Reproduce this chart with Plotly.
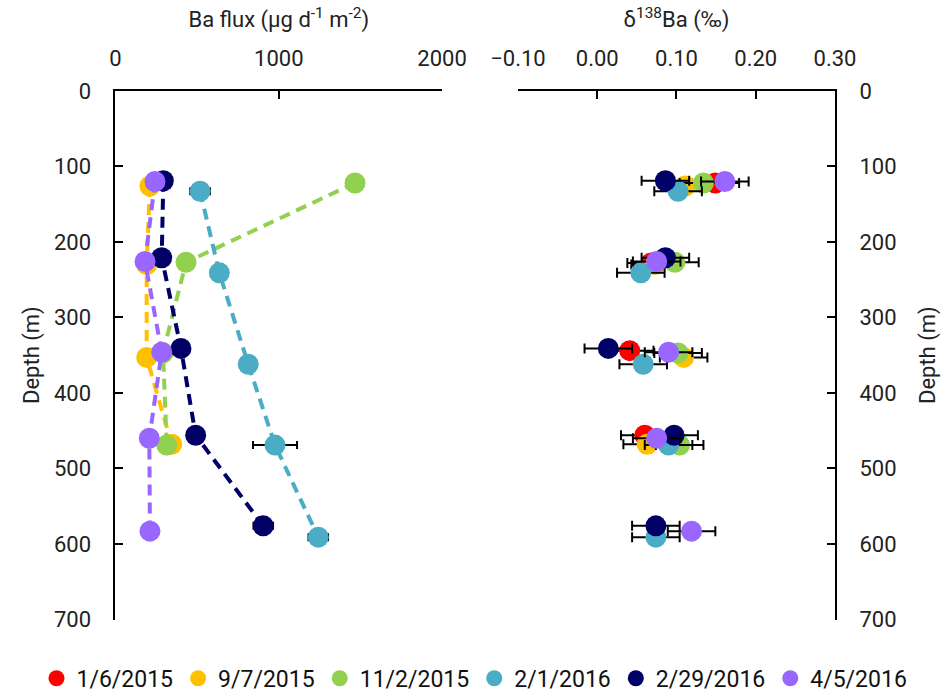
import plotly.graph_objects as go

# Sampling dates (legend order) and their colours
dates = ["1/6/2015", "9/7/2015", "11/2/2015", "2/1/2016", "2/29/2016", "4/5/2016"]
colors = ["#FF0000", "#FFC000", "#92D050", "#4BACC6", "#000066", "#9966FF"]

# Trap depths (m) per sampling date
depth_0106 = [122, 228, 344, 456]
depth_0907 = [126, 230, 353, 468]
depth_1102 = [122, 227, 347, 469]
depth_0201 = [133, 241, 362, 469, 591]
depth_0229 = [119, 221, 341, 456, 576]
depth_0405 = [120, 226, 346, 460, 583]

# Ba flux (µg d-1 m-2) and its uncertainty
flux_0106 = [None, None, None, None]
flux_0907 = [211, 191, 191, 344]
flux_1102 = [1467, 432, 291, 314]
flux_0201 = [518, 636, 813, 977, 1242]
flux_0229 = [293, 283, 401, 491, 905]
flux_0405 = [242, 181, 283, 207, 211]
flux_err_0106 = [0, 0, 0, 0]
flux_err_0907 = [0, 0, 0, 0]
flux_err_1102 = [45, 0, 0, 0]
flux_err_0201 = [60, 0, 0, 135, 60]
flux_err_0229 = [0, 0, 0, 0, 60]
flux_err_0405 = [0, 0, 0, 0, 0]

# delta-138 Ba (permil) and its uncertainty
d138_0106 = [0.149, 0.068, 0.041, 0.060]
d138_0907 = [0.111, 0.073, 0.109, 0.063]
d138_1102 = [0.134, 0.098, 0.102, 0.104]
d138_0201 = [0.102, 0.055, 0.058, 0.090, 0.074]
d138_0229 = [0.086, 0.086, 0.014, 0.097, 0.074]
d138_0405 = [0.161, 0.075, 0.090, 0.075, 0.119]
d138_err_0106 = [0.03, 0.03, 0.03, 0.03]
d138_err_0907 = [0.03, 0.03, 0.03, 0.03]
d138_err_1102 = [0.03, 0.03, 0.03, 0.03]
d138_err_0201 = [0.03, 0.03, 0.03, 0.03, 0.03]
d138_err_0229 = [0.03, 0.03, 0.03, 0.03, 0.03]
d138_err_0405 = [0.03, 0.03, 0.03, 0.03, 0.03]

# Axis ticks
flux_ticks = [0, 1000, 2000]
d138_ticks = [-0.10, 0.00, 0.10, 0.20, 0.30]
depth_ticks = [0, 100, 200, 300, 400, 500, 600, 700]

depths = [depth_0106, depth_0907, depth_1102, depth_0201, depth_0229, depth_0405]
fluxes = [flux_0106, flux_0907, flux_1102, flux_0201, flux_0229, flux_0405]
flux_errs = [flux_err_0106, flux_err_0907, flux_err_1102, flux_err_0201, flux_err_0229, flux_err_0405]
d138s = [d138_0106, d138_0907, d138_1102, d138_0201, d138_0229, d138_0405]
d138_errs = [d138_err_0106, d138_err_0907, d138_err_1102, d138_err_0201, d138_err_0229, d138_err_0405]

FONT = "Roboto"
TXT = "#222222"
MSIZE = 21

fig = go.Figure()

# Left panel: Ba flux profiles with dashed connectors
for name, col, dep, fx, fe in zip(dates, colors, depths, fluxes, flux_errs):
    fig.add_trace(go.Scatter(
        x=fx, y=dep, mode="lines+markers", name=name, legendgroup=name,
        showlegend=False, xaxis="x", yaxis="y",
        line=dict(color=col, width=4, dash="11px,7px"),
        marker=dict(color=col, size=MSIZE, line=dict(width=0)),
        error_x=dict(type="data", array=fe, color="black", thickness=2, width=4),
        cliponaxis=False,
    ))

# Right panel: isotope composition, markers only
for name, col, dep, dv, de in zip(dates, colors, depths, d138s, d138_errs):
    fig.add_trace(go.Scatter(
        x=dv, y=dep, mode="markers", name=name, legendgroup=name,
        showlegend=True, xaxis="x2", yaxis="y2",
        marker=dict(color=col, size=MSIZE, line=dict(width=0)),
        error_x=dict(type="data", array=de, color="black", thickness=2, width=5),
        cliponaxis=False,
    ))

tickfont = dict(family=FONT, size=22, color=TXT)
titlefont = dict(family=FONT, size=22, color=TXT)
common_x = dict(side="top", showline=True, linecolor="black", linewidth=2,
                ticks="inside", ticklen=8, tickwidth=2, tickcolor="black",
                showgrid=False, zeroline=False, tickfont=tickfont,
                ticklabelstandoff=14, automargin=False)
common_y = dict(range=[700, 0], tickvals=depth_ticks, showline=True,
                linecolor="black", linewidth=2, ticks="inside", ticklen=8,
                tickwidth=2, tickcolor="black", showgrid=False, zeroline=False,
                tickfont=tickfont, ticklabelstandoff=18, automargin=False)

fig.update_layout(
    width=949, height=700,
    margin=dict(l=0, r=0, t=0, b=0),
    paper_bgcolor="white", plot_bgcolor="rgba(0,0,0,0)",
    font=dict(family=FONT, color=TXT),
    xaxis=dict(domain=[0.1217, 0.4658], range=[0, 2000], tickvals=flux_ticks,
               anchor="y", **common_x,
               title=dict(text="Ba flux (µg d<sup>-1</sup> m<sup>-2</sup>)",
                          font=titlefont, standoff=12)),
    yaxis=dict(domain=[0.1086, 0.8693], anchor="x", side="left", **common_y,
               title=dict(text="Depth (m)", font=titlefont, standoff=8)),
    xaxis2=dict(domain=[0.5458, 0.8799], range=[-0.1, 0.3], tickvals=d138_ticks,
                tickformat=".2f", anchor="y2", **common_x,
                title=dict(text="δ<sup>138</sup>Ba (‰)", font=titlefont,
                           standoff=12)),
    yaxis2=dict(domain=[0.1086, 0.8693], anchor="x2", side="right", **common_y,
                title=dict(text="Depth (m)", font=titlefont, standoff=24)),
    legend=dict(orientation="h", x=0.5, xanchor="center", y=0.024,
                yanchor="middle", font=dict(family=FONT, size=23, color="#111111"),
                itemwidth=30, tracegroupgap=0, bgcolor="rgba(0,0,0,0)"),
    showlegend=True,
)

fig.write_html("out.html")
